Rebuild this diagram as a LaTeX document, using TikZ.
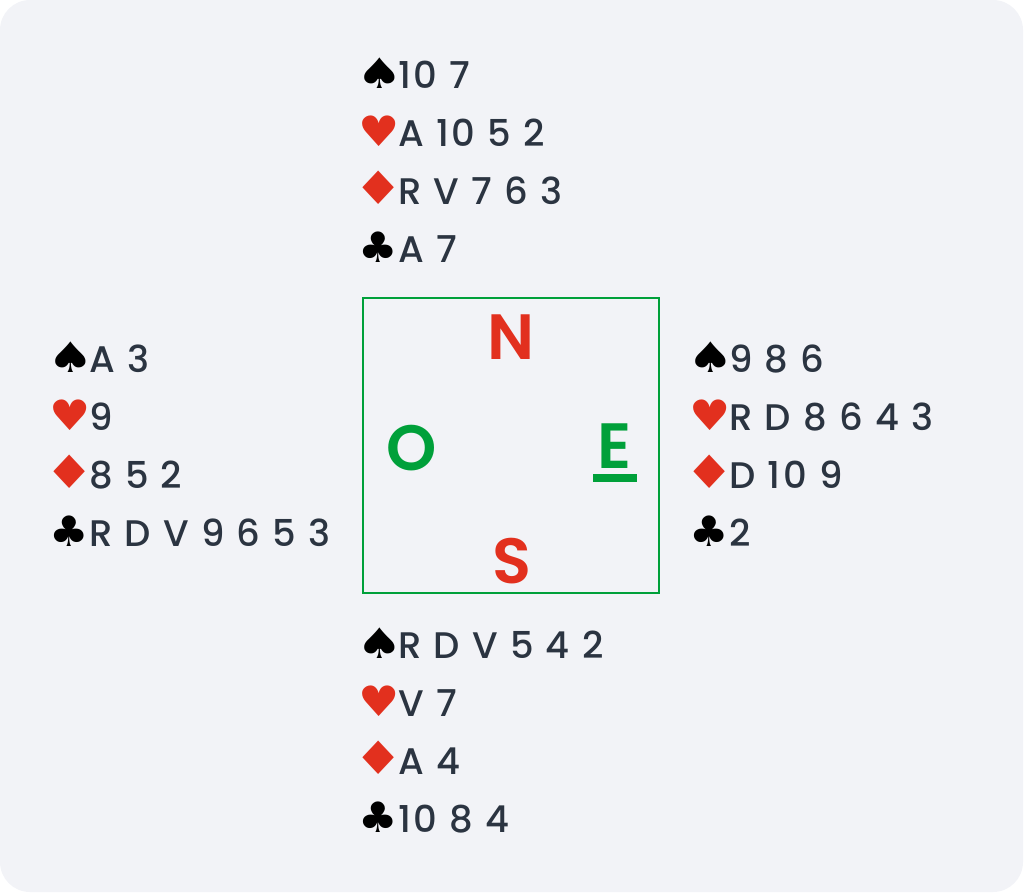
\documentclass[tikz,border=0pt]{standalone}
\usepackage{fontspec}
\IfFontExistsTF{Poppins Medium}
  {\setmainfont{Poppins Medium}[LetterSpace=7]}
  {\setmainfont{Poppins}[LetterSpace=7,FakeBold=0.6]}
\IfFontExistsTF{Poppins SemiBold}
  {\newfontfamily\pointfont{Poppins SemiBold}}
  {\newfontfamily\pointfont{Poppins}[FakeBold=2]}
\newfontfamily\suitfont{DejaVu Sans}
\usetikzlibrary{positioning}

\definecolor{fond}{HTML}{F2F3F7}
\definecolor{encre}{HTML}{2B3441}
\definecolor{rouge}{HTML}{E2301E}
\definecolor{vert}{HTML}{00A03A}

% couleur, recul, largeur, hauteur, symbole
\newcommand{\suit}[5]{\makebox[35pt][l]{\hspace{-#2pt}\suitfont\fontsize{40}{40}\selectfont\color{#1}\scalebox{#3}[#4]{#5}}}
\newcommand{\pique}{\suit{black}{6.5}{1.3}{1.05}{♠}}
\newcommand{\coeur}{\suit{rouge}{4.6}{1.15}{1.05}{♥}}
\newcommand{\carreau}{\suit{rouge}{9.8}{1.4}{1.15}{♦}}
\newcommand{\trefle}{\suit{black}{4.4}{1.1}{1.05}{♣}}

\begin{document}
\begin{tikzpicture}[x=1pt,y=-1pt,
    hand/.style={anchor=base west,inner sep=0pt,align=left,text=encre,
      font=\fontsize{37}{58}\selectfont},
    point/.style={inner sep=0pt,font=\pointfont\fontsize{64}{64}\selectfont}]

  % fond
  \useasboundingbox (0,0) rectangle (1024,892);
  \fill[fond,rounded corners=30pt] (0,0) rectangle (1023,892);

  % table
  \draw[vert,line width=2pt] (363,298) rectangle (659,593);
  \node[point,text=rouge] (N) at (511,337) {N};
  \node[point,text=vert]  (O) at (412,448) {O};
  \node[point,text=vert]  (E) at (615,446) {E};
  \node[point,text=rouge] (S) at (512,561) {S};
  \fill[vert] (593,474) rectangle (637,482);

  % mains (ancre sur la derniere ligne)
  \node[hand] (nord) at (363,262)
    {\pique10 7\\ \coeur A 10 5 2\\ \carreau R V 7 6 3\\ \trefle A 7};
  \node[hand] (ouest) at (54,546)
    {\pique A 3\\ \coeur 9\\ \carreau 8 5 2\\ \trefle R D V 9 6 5 3};
  \node[hand] (est) at (694,546)
    {\pique 9 8 6\\ \coeur R D 8 6 4 3\\ \carreau D 10 9\\ \trefle 2};
  \node[hand] (sud) at (363,832)
    {\pique R D V 5 4 2\\ \coeur V 7\\ \carreau A 4\\ \trefle 10 8 4};

\end{tikzpicture}
\end{document}
